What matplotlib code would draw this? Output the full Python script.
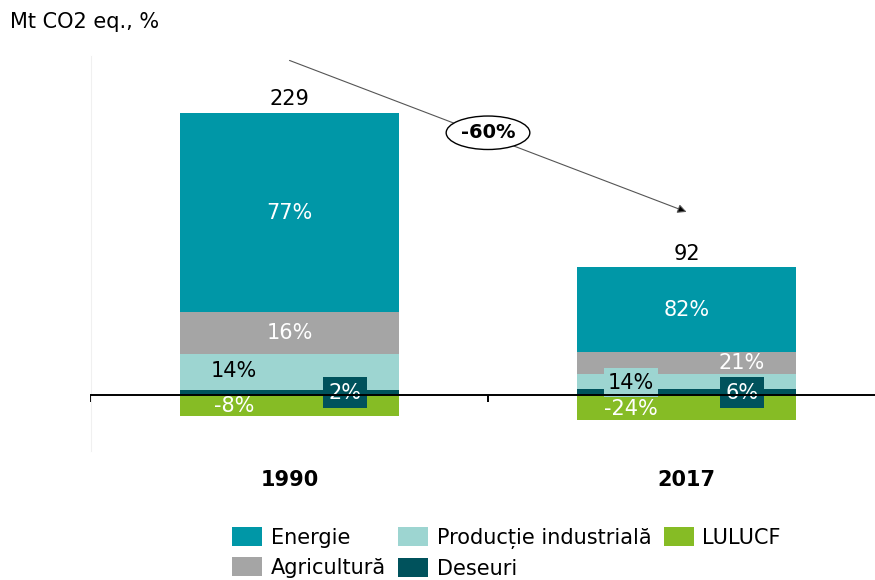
import numpy as np
import matplotlib.pyplot as plt

years = ['1990', '2017']
totals = [229, 92]
# shares of net total, %
energie = [77, 82]
agricultura = [16, 21]
productie = [14, 14]
deseuri = [2, 6]
lulucf = [-8, -24]
change_label = '-60%'

c_energie = '#0097a7'
c_agri = '#a5a5a5'
c_prod = '#9dd5d1'
c_deseuri = '#00525c'
c_lulucf = '#86bc25'

plt.rcParams['font.family'] = ['DejaVu Sans']

fig = plt.figure(figsize=(8.75, 5.8), dpi=100)
ax = fig.add_axes([91 / 875, 0.2216, 794 / 875, 0.682])

x = np.arange(len(years))
w = 0.55
tot = np.array(totals, dtype=float)
mt = lambda p: np.array(p) * tot / 100.0

d = mt(deseuri)
p = mt(productie)
a = mt(agricultura)
e = mt(energie)
l = mt(lulucf)

ax.bar(x, d, w, color=c_deseuri, label='Deseuri')
ax.bar(x, p, w, bottom=d, color=c_prod, label='Producție industrială')
ax.bar(x, a, w, bottom=d + p, color=c_agri, label='Agricultură')
ax.bar(x, e, w, bottom=d + p + a, color=c_energie, label='Energie')
ax.bar(x, l, w, color=c_lulucf, label='LULUCF')

fs = 15
top = d + p + a + e
for i in range(len(years)):
    ax.text(x[i], top[i] + 3, str(totals[i]), ha='center', va='bottom', fontsize=fs)
    ax.text(x[i], d[i] + p[i] + a[i] + e[i] / 2, f'{energie[i]}%', ha='center', va='center',
            color='white', fontsize=fs)
    # -8% / -24%
    ax.text(x[i] - 0.14, l[i] / 2 - 1, f'{lulucf[i]}%', ha='center', va='center',
            color='white', fontsize=fs)
    # deseuri in dark box
    ax.text(x[i] + 0.14, 2, f'{deseuri[i]}%', ha='center', va='center', color='white',
            fontsize=fs, bbox=dict(boxstyle='square,pad=0.25', fc=c_deseuri, ec='none'))

# 1990 specific placements
ax.text(x[0], d[0] + p[0] + a[0] / 2, f'{agricultura[0]}%', ha='center', va='center',
        color='white', fontsize=fs)
ax.text(x[0] - 0.14, d[0] + p[0] / 2 + 1, f'{productie[0]}%', ha='center', va='center',
        color='black', fontsize=fs)
# 2017 specific placements
ax.text(x[1] + 0.14, d[1] + p[1] + 10, f'{agricultura[1]}%', ha='center', va='center',
        color='white', fontsize=fs)
ax.text(x[1] - 0.14, d[1] + p[1] / 2 - 1, f'{productie[1]}%', ha='center', va='center',
        color='black', fontsize=fs, bbox=dict(boxstyle='square,pad=0.2', fc=c_prod, ec='none'))

ax.set_xlim(-0.5, 1.5)
ax.set_ylim(-50, 300)

for s in ['top', 'right']:
    ax.spines[s].set_visible(False)
ax.spines['left'].set_color('#f0f0f0')
ax.spines['left'].set_linewidth(0.8)
ax.spines['bottom'].set_position(('data', 0))
ax.spines['bottom'].set_linewidth(1.4)
ax.spines['bottom'].set_zorder(5)
ax.set_yticks([])
ax.set_xticks([-0.5, 0.5])
ax.set_xticklabels([])
ax.tick_params(axis='x', direction='out', length=5, width=1.4)

for i in range(len(years)):
    ax.text(x[i], -75, years[i], ha='center', va='center', fontsize=fs, fontweight='bold')

# change arrow
ax.annotate('', xy=(1.0, 162), xytext=(0.0, 296),
            arrowprops=dict(arrowstyle='-|>', ec='#555555', fc='black', lw=0.8,
                            mutation_scale=13, shrinkA=0, shrinkB=0))
ax.text(0.5, 232, change_label, ha='center', va='center', fontsize=14, fontweight='bold',
        bbox=dict(boxstyle='ellipse,pad=0.12', fc='white', ec='black', lw=1))

fig.text(10 / 875, 1 - 22 / 580, 'Mt CO2 eq., %', ha='left', va='center', fontsize=fs)

h, lab = ax.get_legend_handles_labels()
order = ['Energie', 'Agricultură', 'Producție industrială', 'Deseuri', 'LULUCF']
hh = [h[lab.index(o)] for o in order]
fig.legend(hh, order, loc='upper left', bbox_to_anchor=(232 / 875, 1 - 527 / 580), ncol=3,
           frameon=False, fontsize=fs, handlelength=1.45, handleheight=1.05,
           handletextpad=0.4, columnspacing=0.6, labelspacing=0.45, borderpad=0,
           borderaxespad=0)

plt.savefig('out.png', dpi=100)
